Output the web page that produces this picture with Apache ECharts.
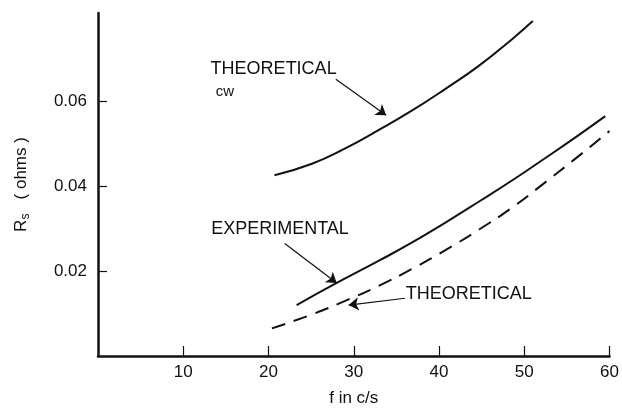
<!DOCTYPE html>
<html>
<head>
<meta charset="utf-8">
<script src="https://cdn.jsdelivr.net/npm/echarts@6/dist/echarts.min.js"></script>
<style>
  html, body { margin: 0; padding: 0; background: #fff; }
  #chart { width: 622px; height: 414px; }
</style>
</head>
<body>
<div id="chart"></div>
<script>
// Surface resistance vs frequency
const xTicks = [10, 20, 30, 40, 50, 60];
const yTicks = [0.02, 0.04, 0.06];

// Theoretical, cw
const freqCw = [20.7, 25.1, 29.0, 32.9, 36.9, 40.8, 44.7, 48.6, 51.0];
const rsCw = [0.0426, 0.0453, 0.0489, 0.0532, 0.0579, 0.0630, 0.0684, 0.0747, 0.0789];

// Experimental
const freqExp = [23.3, 28.0, 32.9, 36.9, 40.8, 44.7, 48.6, 52.0, 56.0, 59.5];
const rsExp = [0.0120, 0.0172, 0.0224, 0.0268, 0.0315, 0.0364, 0.0414, 0.0460, 0.0515, 0.0565];

// Theoretical
const freqTh = [20.4, 25.1, 29.0, 32.9, 36.9, 40.8, 44.7, 48.6, 52.0, 56.0, 60.0];
const rsTh = [0.0065, 0.0098, 0.0130, 0.0165, 0.0206, 0.0250, 0.0298, 0.0350, 0.0402, 0.0465, 0.0530];

const FONT = '"Liberation Sans", Arial, sans-serif';
const INK = '#111';

const zip = (xs, ys) => xs.map((x, i) => [x, ys[i]]);

// Pointer line with a filled arrowhead at its end
function arrow(from, to) {
  return {
    silent: true,
    animation: false,
    symbol: ['none', 'arrow'],
    symbolSize: 10,
    label: { show: false },
    itemStyle: { color: INK },
    lineStyle: { color: INK, width: 1.2, type: 'solid' },
    data: [[{ coord: from }, { coord: to }]]
  };
}

function tag(lines) {
  return {
    silent: true,
    animation: false,
    symbol: 'circle',
    symbolSize: 0,
    data: lines.map(l => ({
      coord: l.at,
      label: {
        show: true,
        position: 'inside',
        formatter: l.text,
        color: INK,
        fontFamily: FONT,
        fontSize: l.size
      }
    }))
  };
}

const chart = echarts.init(document.getElementById('chart'), null, { renderer: 'canvas' });

chart.setOption({
  animation: false,
  backgroundColor: '#fff',
  grid: { left: 98, right: 12, top: 13, bottom: 58, containLabel: false },
  xAxis: {
    type: 'value',
    min: 0,
    max: 60,
    interval: 10,
    name: 'f in c/s',
    nameLocation: 'middle',
    nameGap: 34,
    nameTextStyle: { color: INK, fontFamily: FONT, fontSize: 17 },
    axisLine: { show: true, onZero: false, lineStyle: { color: INK, width: 2.5 } },
    axisTick: { show: true, inside: true, length: 10, customValues: xTicks, lineStyle: { color: INK, width: 1.2 } },
    axisLabel: { show: true, customValues: xTicks, margin: 8, color: INK, fontFamily: FONT, fontSize: 17 },
    splitLine: { show: false }
  },
  yAxis: {
    type: 'value',
    min: 0,
    max: 0.0808,
    name: '{r|R}{s|s}   ( ohms )',
    nameLocation: 'middle',
    nameGap: 66,
    nameTextStyle: {
      color: INK, fontFamily: FONT, fontSize: 17,
      rich: {
        r: { fontFamily: FONT, fontSize: 17, color: INK },
        s: { fontFamily: FONT, fontSize: 12, color: INK, padding: [9, 0, 0, 0] }
      }
    },
    axisLine: { show: true, onZero: false, lineStyle: { color: INK, width: 2.5 } },
    axisTick: { show: true, inside: true, length: 9, customValues: yTicks, lineStyle: { color: INK, width: 1.2 } },
    axisLabel: { show: true, customValues: yTicks, margin: 11, color: INK, fontFamily: FONT, fontSize: 17 },
    splitLine: { show: false }
  },
  series: [
    {
      name: 'Theoretical cw',
      type: 'line',
      data: zip(freqCw, rsCw),
      smooth: true,
      showSymbol: false,
      color: INK,
      lineStyle: { color: INK, width: 2 },
      markLine: arrow([27.9, 0.0652], [33.8, 0.0567]),
      markPoint: tag([
        { at: [20.6, 0.0675], text: 'THEORETICAL', size: 18 },
        { at: [14.9, 0.0622], text: 'cw', size: 15 }
      ])
    },
    {
      name: 'Experimental',
      type: 'line',
      data: zip(freqExp, rsExp),
      smooth: true,
      showSymbol: false,
      color: INK,
      lineStyle: { color: INK, width: 2 },
      markLine: arrow([21.9, 0.0265], [28.0, 0.0172]),
      markPoint: tag([
        { at: [21.35, 0.0299], text: 'EXPERIMENTAL', size: 18 }
      ])
    },
    {
      name: 'Theoretical',
      type: 'line',
      data: zip(freqTh, rsTh),
      smooth: true,
      showSymbol: false,
      color: INK,
      lineStyle: { color: INK, width: 2, type: [14, 9] },
      markLine: arrow([36.0, 0.0136], [29.4, 0.0120]),
      markPoint: tag([
        { at: [43.5, 0.0146], text: 'THEORETICAL', size: 18 }
      ])
    }
  ]
});
</script>
</body>
</html>
